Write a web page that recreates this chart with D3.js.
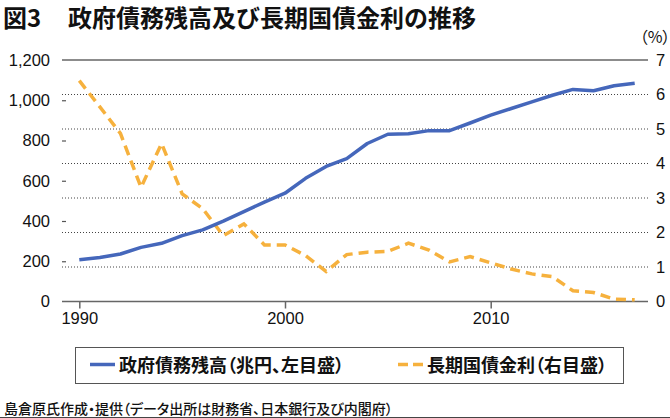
<!DOCTYPE html>
<html><head><meta charset="utf-8">
<script src="https://cdn.jsdelivr.net/npm/d3@7"></script>
<style>
body{margin:0;background:#fff;}
svg{display:block;}
.num{font-family:"Liberation Sans",Arial,Helvetica,sans-serif;font-size:16.5px;fill:#111;}
.jp{font-family:"Noto Sans CJK JP","Noto Sans",sans-serif;fill:#111;}
.palt{font-feature-settings:"palt";}
</style></head>
<body>
<svg id="chart" width="670" height="418"></svg>
<script>
const years = d3.range(1990, 2018);
const debt = [208, 219, 236, 269, 289, 327, 356, 399, 447, 494, 538, 612, 671, 710, 785, 831, 834, 849, 849, 887, 926, 959, 992, 1025, 1054, 1047, 1072, 1084];
const rate = [6.40, 5.64, 4.87, 3.31, 4.58, 3.12, 2.69, 1.91, 2.25, 1.64, 1.64, 1.33, 0.87, 1.36, 1.43, 1.45, 1.69, 1.49, 1.15, 1.30, 1.12, 0.94, 0.80, 0.72, 0.31, 0.26, 0.07, 0.05];
const leftTicks = [0, 200, 400, 600, 800, 1000, 1200];
const rightTicks = [0, 1, 2, 3, 4, 5, 6, 7];
const xTicks = [1990, 2000, 2010];
const title1 = "図3";
const title2 = "政府債務残高及び長期国債金利の推移";
const legendLabels = ["政府債務残高（兆円、左目盛）", "長期国債金利（右目盛）"];
const footer = "島倉原氏作成・提供（データ出所は財務省、日本銀行及び内閣府）";

const svg = d3.select("#chart");
const L = 62, R = 648, T = 60, B = 301.5;
const x = d3.scaleLinear().domain([1990, 2010]).range([79.3, 490.7]);
const yL = d3.scaleLinear().domain([0, 1200]).range([B, T]);
const yR = d3.scaleLinear().domain([0, 7]).range([B, T]);
const blue = "#4567bb", orange = "#f6b13d";

// title
svg.append("text").attr("class","jp").attr("x",3).attr("y",27).attr("font-size",24).attr("font-weight",700).text(title1);
svg.append("text").attr("class","jp").attr("x",68).attr("y",27).attr("font-size",24).attr("font-weight",700).text(title2);

// gridlines (right axis)
svg.append("g").selectAll("line").data(rightTicks.filter(d => d > 0 && d < 7)).join("line")
  .attr("x1", L).attr("x2", R).attr("y1", d => yR(d)).attr("y2", d => yR(d))
  .attr("stroke", "#444").attr("stroke-width", 1).attr("stroke-dasharray", "1,2");
// top and bottom lines
[7, 0].forEach(v => {
  svg.append("line").attr("x1", L).attr("x2", R).attr("y1", yR(v)).attr("y2", yR(v))
    .attr("stroke", "#666").attr("stroke-width", 1.5);
});

// left axis
const gL = svg.append("g").attr("transform", `translate(${L},0)`)
  .call(d3.axisLeft(yL).tickValues(leftTicks).tickSizeInner(-4).tickSizeOuter(0).tickPadding(12).tickFormat(d3.format(",")));
gL.select(".domain").remove();
gL.selectAll(".tick line").attr("stroke", "#555").attr("stroke-width", 1.2);
gL.selectAll(".tick text").attr("class", "num").attr("font-size", null).attr("font-family", null);
gL.selectAll(".tick").filter(d => d === 0 || d === 1200).select("line").remove();

// right axis
const gR = svg.append("g").attr("transform", `translate(${R},0)`)
  .call(d3.axisRight(yR).tickValues(rightTicks).tickSize(0).tickPadding(8).tickFormat(d3.format("d")));
gR.select(".domain").remove();
gR.selectAll(".tick text").attr("class", "num").attr("font-size", null).attr("font-family", null);
svg.append("text").attr("class","jp palt").attr("x",655).attr("y",43).attr("text-anchor","middle").attr("font-size",16).text("（%）");

// bottom axis
const gB = svg.append("g").attr("transform", `translate(0,${B})`)
  .call(d3.axisBottom(x).tickValues(xTicks).tickSizeInner(7).tickSizeOuter(0).tickPadding(4).tickFormat(d3.format("d")));
gB.select(".domain").remove();
gB.selectAll(".tick line").attr("stroke", "#666").attr("stroke-width", 1.5);
gB.selectAll(".tick text").attr("class", "num").attr("font-size", null).attr("font-family", null);

// lines
svg.append("path").datum(rate.map((v, i) => [years[i], v]))
  .attr("fill", "none").attr("stroke", orange).attr("stroke-width", 3.5).attr("stroke-dasharray", "10,6")
  .attr("d", d3.line().x(d => x(d[0])).y(d => yR(d[1])));
svg.append("path").datum(debt.map((v, i) => [years[i], v]))
  .attr("fill", "none").attr("stroke", blue).attr("stroke-width", 3.5).attr("stroke-linejoin","round")
  .attr("d", d3.line().x(d => x(d[0])).y(d => yL(d[1])));

// legend
svg.append("rect").attr("x", 75.5).attr("y", 347.5).attr("width", 548).attr("height", 36)
  .attr("fill", "#fff").attr("stroke", "#555").attr("stroke-width", 1);
svg.append("line").attr("x1", 90).attr("x2", 115).attr("y1", 364.5).attr("y2", 364.5).attr("stroke", blue).attr("stroke-width", 3.5);
svg.append("text").attr("class","jp palt").attr("x",119).attr("y",371.5).attr("font-size",18).attr("font-weight",700).text(legendLabels[0]);
svg.append("line").attr("x1", 398).attr("x2", 423).attr("y1", 364.5).attr("y2", 364.5).attr("stroke", orange).attr("stroke-width", 3.5).attr("stroke-dasharray","10,5");
svg.append("text").attr("class","jp palt").attr("x",427).attr("y",371.5).attr("font-size",18).attr("font-weight",700).text(legendLabels[1]);

// footer
svg.append("text").attr("class","jp palt").attr("x",4).attr("y",414).attr("font-size",14).attr("font-weight",500).text(footer);
svg.append("line").attr("x1",0).attr("x2",670).attr("y1",417.5).attr("y2",417.5).attr("stroke","#444").attr("stroke-width",1);
</script>
</body></html>
